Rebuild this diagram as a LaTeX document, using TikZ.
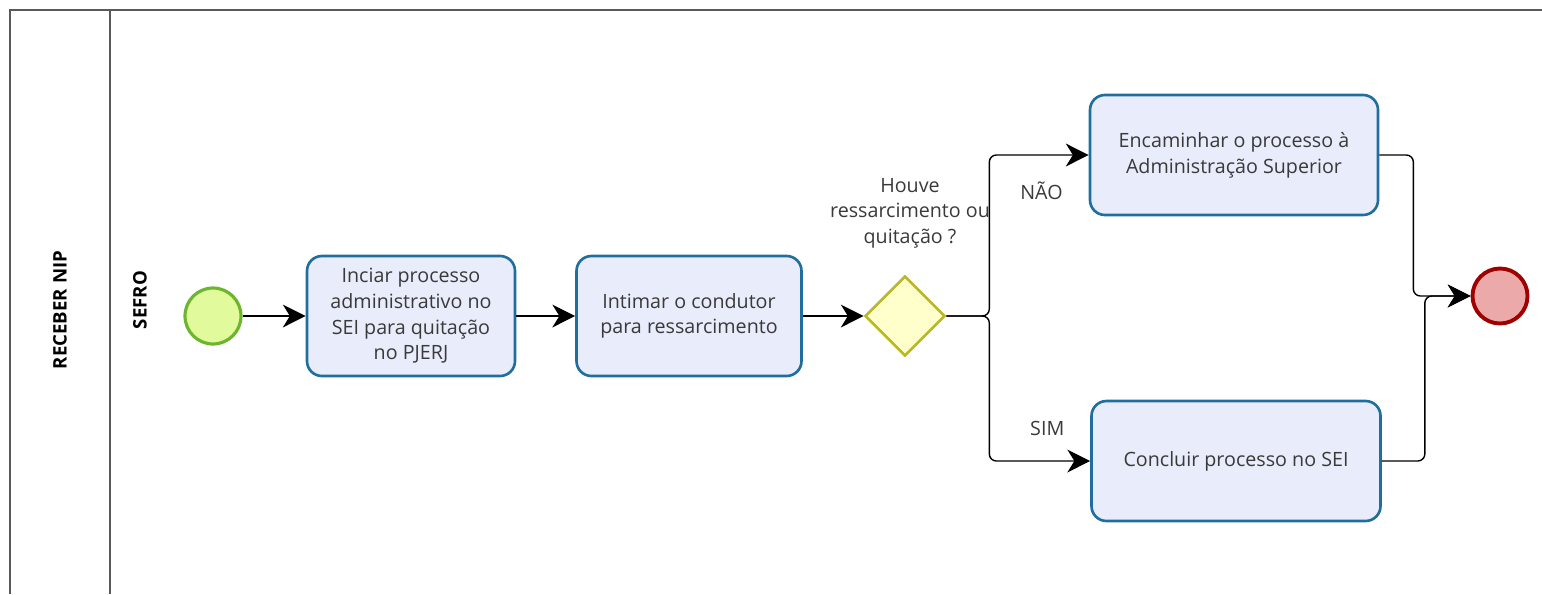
\documentclass[tikz,border=0pt]{standalone}
\usepackage{fontspec}
\setmainfont{Open Sans}
\usetikzlibrary{positioning, arrows.meta, shapes.geometric}

\definecolor{taskfill}{HTML}{E8ECFB}
\definecolor{taskline}{HTML}{1F6E9E}
\definecolor{startfill}{HTML}{E1FA9B}
\definecolor{startline}{HTML}{6CB52D}
\definecolor{endfill}{HTML}{EBA9A9}
\definecolor{endline}{HTML}{A00000}
\definecolor{gwfill}{HTML}{FFFFCC}
\definecolor{gwline}{HTML}{B8B828}
\definecolor{txt}{HTML}{3A3A3A}

\tikzset{
  task/.style={draw=taskline, fill=taskfill, line width=1.5pt, rounded corners=8.5pt,
    minimum height=2.4cm, align=center, text=txt},
  startev/.style={circle, draw=startline, fill=startfill, line width=1.8pt, minimum size=1.12cm},
  endev/.style={circle, draw=endline, fill=endfill, line width=2.2pt, minimum size=1.1cm},
  gateway/.style={diamond, draw=gwline, fill=gwfill, line width=1.5pt, minimum size=1.6cm, inner sep=0pt},
  flow/.style={->, line width=0.8pt, rounded corners=4pt},
  lbl/.style={text=txt, align=center},
  lanetitle/.style={rotate=90, font=\fontsize{10.6}{12}\bfseries\selectfont},
  poolline/.style={draw=black!65, line width=1pt}
}

\begin{document}
\begin{tikzpicture}[node distance=4cm, on grid, font=\fontsize{11.2}{14.6}\selectfont,
    >={Stealth[length=13pt,width=13pt,inset=4pt]}]
  \useasboundingbox (0,0) rectangle (30.84,11.88);
  % pool and lane
  \draw[poolline] (0.2,0) |- (30.84,11.68);
  \draw[poolline] (2.2,0) -- (2.2,11.68);
  \node[lanetitle] (pool) at (1.2,5.68) {RECEBER NIP};
  \node[lanetitle] (lane) at (2.8,5.88) {SEFRO};

  % events and tasks
  \node[startev] (start) at (4.26,5.56) {};
  \node[task, minimum width=4.16cm] (inic) [right=3.96cm of start]
    {Inciar processo\\administrativo no\\SEI para quitação\\no PJERJ};
  \node[task, minimum width=4.5cm] (intim) [right=5.56cm of inic]
    {Intimar o condutor\\para ressarcimento};
  \node[gateway] (gw) [right=4.32cm of intim] {};
  \node[lbl] (gwlbl) [above=2.06cm of gw, xshift=0.1cm]
    {Houve\\ressarcimento ou\\quitação ?};
  \node[task, minimum width=5.76cm] (encam) at (24.68,8.78)
    {Encaminhar o processo à\\Administração Superior};
  \node[task, minimum width=5.78cm] (concl) at (24.72,2.66)
    {Concluir processo no SEI};
  \node[endev] (fim) at (30.0,5.96) {};

  % flows
  \draw[flow] (start) -- (inic);
  \draw[flow] (inic) -- (intim);
  \draw[flow] (intim) -- (gw);
  \draw[flow] (gw.east) -- ++(0.86,0) |- (encam.west)
    node[lbl, pos=0.75, below=0.4cm, xshift=0.05cm] {NÃO};
  \draw[flow] (gw.east) -- ++(0.86,0) |- (concl.west)
    node[lbl, pos=0.75, above=0.38cm, xshift=0.15cm] {SIM};
  \draw[flow] (encam.east) -- ++(0.68,0) |- (fim.west);
  \draw[flow] (concl.east) -- ++(0.86,0) |- (fim.west);
\end{tikzpicture}
\end{document}
